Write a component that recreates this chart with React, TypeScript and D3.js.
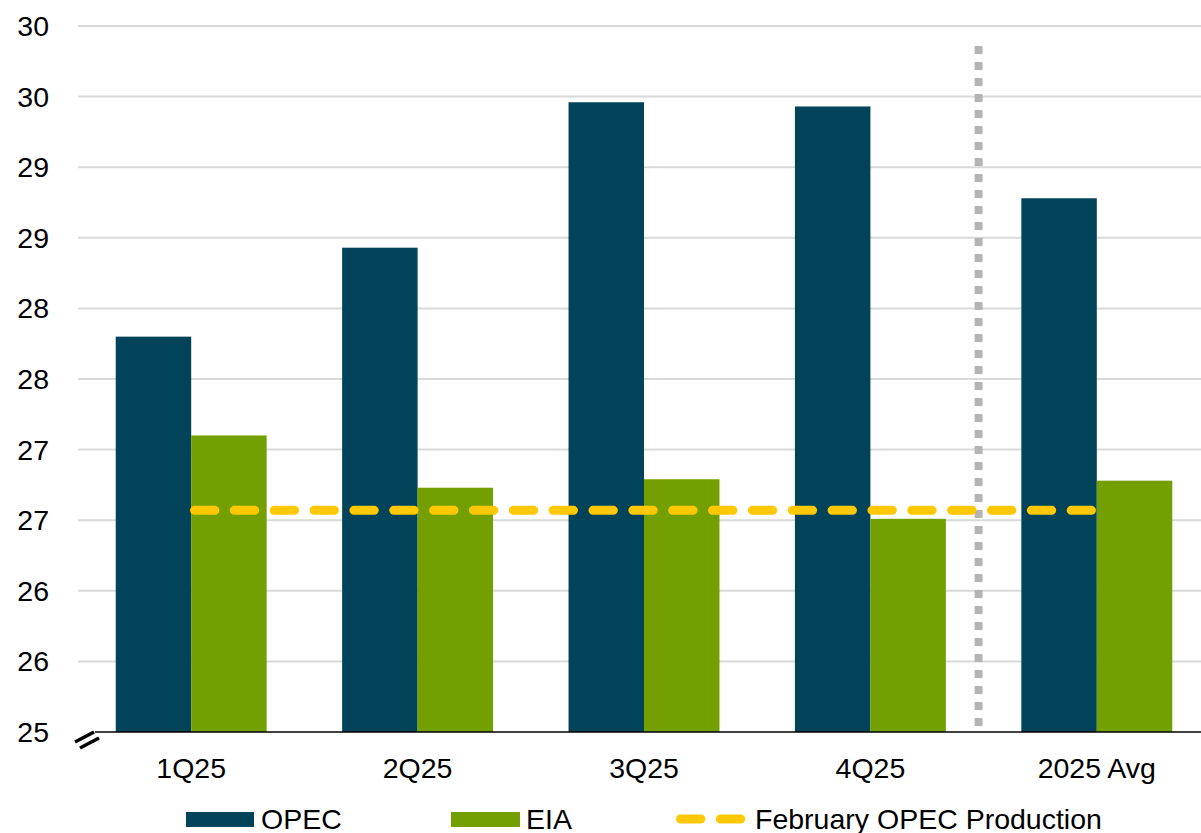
import React from "react";
import * as d3 from "d3";

const categories = ["1Q25", "2Q25", "3Q25", "4Q25", "2025 Avg"];
const opecValues = [27.8, 28.43, 29.46, 29.43, 28.78];
const eiaValues = [27.1, 26.73, 26.79, 26.51, 26.78];
const februaryProduction = 26.57;
const yTicks = [25, 25.5, 26, 26.5, 27, 27.5, 28, 28.5, 29, 29.5, 30];

const W = 1201;
const H = 833;
const FONT = "Arial, 'Liberation Sans', sans-serif";
const FS = 28.5;
const OPEC_COLOR = "#014359";
const EIA_COLOR = "#739f00";
const YELLOW = "#ffc800";
const DASH = "20.35 19.5";

export default function App() {
  const x = d3.scaleBand<string>().domain(categories).range([78, 1210]).padding(0);
  const y = d3.scaleLinear().domain([25, 30]).range([732, 26]);
  const bw = x.bandwidth() / 3;
  const cx = (c: string) => (x(c) as number) + x.bandwidth() / 2;
  const sepX = (x("2025 Avg") as number) - 5;

  return (
    <svg width={W} height={H} style={{ position: "absolute", left: 0, top: 0, background: "#fff" }}>
      {yTicks.map((t) => (
        <g key={t}>
          {t > 25 && <line x1={78} x2={W} y1={y(t)} y2={y(t)} stroke="#d9d9d9" strokeWidth={2} />}
          <text x={49} y={y(t)} dy="0.35em" textAnchor="end" fontFamily={FONT} fontSize={FS} fill="#000">
            {d3.format(".0f")(Math.round(t))}
          </text>
        </g>
      ))}
      <line x1={sepX} x2={sepX} y1={46} y2={732} stroke="#b4b4b4" strokeWidth={8} strokeDasharray="8 8" />
      {categories.map((c, i) => (
        <g key={c}>
          <rect x={cx(c) - bw} y={y(opecValues[i])} width={bw} height={y(25) - y(opecValues[i])} fill={OPEC_COLOR} />
          <rect x={cx(c)} y={y(eiaValues[i])} width={bw} height={y(25) - y(eiaValues[i])} fill={EIA_COLOR} />
          <text x={cx(c)} y={768} dy="0.35em" textAnchor="middle" fontFamily={FONT} fontSize={FS} fill="#000">
            {c}
          </text>
        </g>
      ))}
      <line
        x1={cx(categories[0]) + 3.3}
        x2={cx(categories[categories.length - 1]) - 5.3}
        y1={y(februaryProduction)}
        y2={y(februaryProduction)}
        stroke={YELLOW}
        strokeWidth={9}
        strokeLinecap="round"
        strokeDasharray={DASH}
      />
      <line x1={95} x2={W} y1={732} y2={732} stroke="#000" strokeWidth={1.5} />
      <line x1={75} y1={742} x2={94} y2={732} stroke="#000" strokeWidth={3.5} />
      <line x1={80} y1={748} x2={99} y2={738} stroke="#000" strokeWidth={3.5} />
      {/* legend */}
      <rect x={186} y={812} width={68} height={15} fill={OPEC_COLOR} />
      <text x={261} y={819} dy="0.35em" fontFamily={FONT} fontSize={FS} fill="#000">OPEC</text>
      <rect x={451} y={812} width={69} height={15} fill={EIA_COLOR} />
      <text x={526} y={819} dy="0.35em" fontFamily={FONT} fontSize={FS} fill="#000">EIA</text>
      <line x1={680.5} x2={742} y1={819} y2={819} stroke={YELLOW} strokeWidth={9} strokeLinecap="round" strokeDasharray={DASH} />
      <text x={755} y={819} dy="0.35em" fontFamily={FONT} fontSize={FS} fill="#000">February OPEC Production</text>
    </svg>
  );
}
